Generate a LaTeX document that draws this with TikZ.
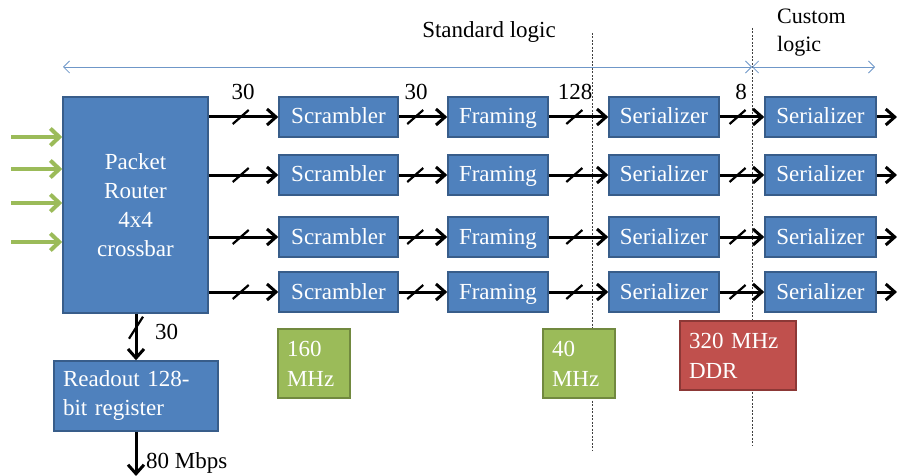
\documentclass[tikz,border=0pt]{standalone}
\usepackage{fontspec}
\setmainfont{Liberation Serif}
\usetikzlibrary{arrows.meta,calc}
\definecolor{blu}{HTML}{4F81BD}
\definecolor{bdr}{HTML}{385D8A}
\definecolor{grn}{HTML}{9BBB59}
\definecolor{gbdr}{HTML}{71893F}
\definecolor{red1}{HTML}{C0504D}
\definecolor{rbdr}{HTML}{8C3836}
\definecolor{lblue}{HTML}{6F97C8}
\tikzset{
  blk/.style={draw=bdr, fill=blu, line width=1.5pt, text=white, inner sep=0pt,
    font=\fontsize{23}{29}\selectfont},
  one/.style={text height=17pt, text depth=3pt, minimum height=40pt},
  clk/.style={draw=gbdr, fill=grn, line width=1.5pt, text=white, inner xsep=9pt, inner ysep=0pt,
    align=left, font=\fontsize{23}{30}\selectfont, minimum height=69pt},
  ddr/.style={clk, draw=rbdr, fill=red1},
  bus/.style={line width=3pt, -{Straight Barb[length=9pt,width=16pt,line width=3pt]}},
  inarr/.style={grn, line width=4pt, -{Straight Barb[length=9pt,width=17pt,line width=4pt]}},
  slashmark/.style={line width=2.2pt},
  lab/.style={font=\fontsize{23}{28}\selectfont, inner sep=0pt},
  span/.style={lblue, line width=0.8pt, {Straight Barb[length=6pt,width=12pt]}-{Straight Barb[length=6pt,width=12pt]}},
  sep/.style={black!75, line width=0.7pt, dash pattern=on 2pt off 1.5pt},
}
\begin{document}
\begin{tikzpicture}[x=1pt,y=-1pt]
\useasboundingbox (0,0) rectangle (897,476);

% separators and spans
\coordinate (d1t) at (592,33); \coordinate (d1b) at (592,450);
\coordinate (d2t) at (752,28); \coordinate (d2b) at (752,445);
\draw[sep] (d1t) -- (d1b);
\draw[sep] (d2t) -- (d2b);
\coordinate (sl) at (63,67); \coordinate (sm) at (752,67); \coordinate (sr) at (875,67);
\draw[span] (sl) -- (sm);
\draw[span] (sm) -- (sr);
\node[lab] (std) at (489,32) {Standard logic};
\node[lab, align=left, anchor=north west, font=\fontsize{22}{28}\selectfont] (cust) at (777,9) {Custom\\logic};

% router
\node[blk, minimum width=145pt, minimum height=216pt, align=center] (router) at (135.5,205) {Packet\\Router\\4x4\\crossbar};

% inputs
\foreach \y [count=\i] in {137,169,203,242} {
  \coordinate (in\i) at (11,\y);
  \draw[inarr] (in\i) -- (router.west |- in\i);
}

% rows
\foreach \y/\i in {117/1,175/2,237/3,292/4} {
  \node[blk, one, minimum width=119pt] (s\i) at (338.5,\y) {Scrambler};
  \node[blk, one, minimum width=100pt] (f\i) at (498,\y) {Framing};
  \node[blk, one, minimum width=110pt] (a\i) at (664,\y) {Serializer};
  \node[blk, one, minimum width=111pt] (b\i) at (820.5,\y) {Serializer};
  \coordinate (o\i) at (897,\y);
  \draw[bus] (router.east |- s\i) -- coordinate[pos=0.46] (m1\i) (s\i.west);
  \draw[bus] (s\i.east) -- coordinate[pos=0.34] (m2\i) (f\i.west);
  \draw[bus] (f\i.east) -- coordinate[pos=0.43] (m3\i) (a\i.west);
  \draw[bus] (a\i.east) -- coordinate[pos=0.40] (m4\i) (b\i.west);
  \draw[bus] (b\i.east) -- (o\i);
  \foreach \m in {m1\i,m2\i,m3\i,m4\i} {
    \draw[slashmark] ($(\m)+(-8,7)$) -- ($(\m)+(8,-7)$);
  }
}

% bus width labels
\node[lab] (w1) at (243,92) {30};
\node[lab] (w2) at (416,92) {30};
\node[lab] (w3) at (575,92) {128};
\node[lab] (w4) at (741,92) {8};

% readout
\node[blk, text width=146pt, inner xsep=9pt, minimum height=70pt, align=left] (ro) at (136,396) {Readout 128-\\bit register};
\draw[bus] (router.south -| ro.north) -- coordinate[pos=0.3] (mr) (ro.north);
\draw[slashmark] ($(mr)+(-7,11)$) -- ($(mr)+(7,-11)$);
\node[lab, anchor=west] (w5) at (155,332) {30};
\coordinate (rout) at (136,476);
\draw[bus] (ro.south) -- (rout);
\node[lab, anchor=west] (rate) at (146,463) {80 Mbps};

% clocks
\node[clk, text width=54pt] (c160) at (314,363.5) {160\\MHz};
\node[clk, text width=54pt] (c40) at (579,363.5) {40\\MHz};
\node[ddr, text width=98pt] (c320) at (738,355.5) {320 MHz\\DDR};
\end{tikzpicture}
\end{document}
